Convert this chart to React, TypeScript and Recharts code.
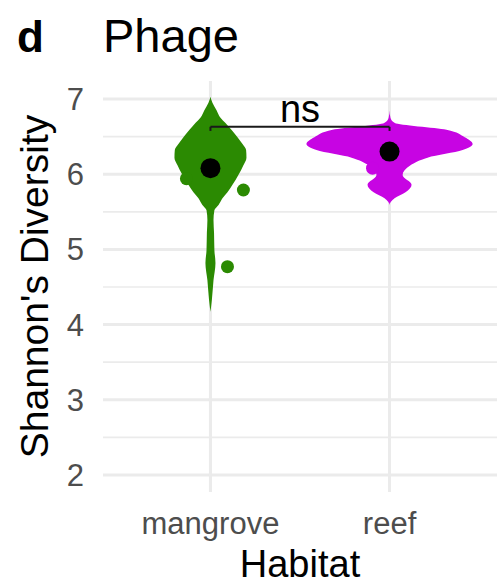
import {
  Area,
  CartesianGrid,
  ComposedChart,
  ReferenceDot,
  ReferenceLine,
  Scatter,
  XAxis,
  YAxis,
} from "recharts";

const FONT = '"Liberation Sans", Arial, Helvetica, sans-serif';

const habitats = ["mangrove", "reef"];
const yTicks = [2, 3, 4, 5, 6, 7];
const yMinor = [2.5, 3.5, 4.5, 5.5, 6.5];

// violin outlines: diversity level -> half width (category units)
const levels = [
  7.03, 6.95, 6.85, 6.75, 6.68, 6.59, 6.49, 6.4, 6.32, 6.22, 6.12, 5.99, 5.86,
  5.76, 5.68, 5.59, 5.52, 5.39, 5.22, 4.99, 4.82, 4.59, 4.33, 4.17,
];
const mangroveHalf = [
  0, 0.011, 0.034, 0.056, 0.084, 0.117, 0.151, 0.179, 0.199, 0.201, 0.184,
  0.156, 0.123, 0.095, 0.067, 0.045, 0.022, 0.017, 0.02, 0.022, 0.028, 0.017,
  0.008, 0,
];
const reefHalf = [
  0, 0, 0, 0.005, 0.03, 0.318, 0.42, 0.464, 0.408, 0.212, 0.117, 0.073, 0.123,
  0.089, 0.028, 0, 0, 0, 0, 0, 0, 0, 0, 0,
];

const meanPoints = [
  { x: 1, v: 6.08 },
  { x: 2, v: 6.3 },
];
const mangrovePoints = [
  { x: 0.866, v: 5.94 },
  { x: 1.184, v: 5.79 },
  { x: 1.095, v: 4.77 },
];
const reefPoints = [{ x: 1.905, v: 6.08 }];

const bracketY = 6.63;
const bracketTick = 6.575;

const violinData = levels.map((v, i) => ({
  v,
  mangrove: [1 - mangroveHalf[i], 1 + mangroveHalf[i]],
  reef: [2 - reefHalf[i], 2 + reefHalf[i]],
}));

const GREEN = "#2B8A02";
const MAGENTA = "#C704E3";

const dot = (r: number, fill: string) => (p: any) =>
  <circle cx={p.cx} cy={p.cy} r={r} fill={fill} />;

export default function App() {
  return (
    <div style={{ position: "absolute", left: 0, top: 0, width: 497, height: 585, background: "#fff" }}>
      <svg width={497} height={70} style={{ position: "absolute", left: 0, top: 0 }}>
        <text x={17} y={52} fontFamily={FONT} fontSize={44} fontWeight="bold" fill="#000">
          d
        </text>
        <text x={103} y={52} fontFamily={FONT} fontSize={47} fill="#000">
          Phage
        </text>
      </svg>
      <ComposedChart
        width={497}
        height={585}
        layout="vertical"
        data={violinData}
        margin={{ top: 81, right: 0, bottom: 0, left: 0 }}
      >
        <CartesianGrid stroke="#EBEBEB" strokeWidth={3} horizontalValues={yTicks} verticalValues={[1, 2]} />
        <CartesianGrid stroke="#EBEBEB" strokeWidth={1.7} vertical={false} horizontalValues={yMinor} />
        <XAxis
          type="number"
          dataKey="x"
          domain={[0.4, 2.6]}
          allowDataOverflow
          ticks={[1, 2]}
          tickFormatter={(t) => habitats[t - 1]}
          height={93}
          tickLine={false}
          axisLine={false}
          tickSize={0}
          tickMargin={20}
          tick={{ fill: "#4D4D4D", fontSize: 31, fontFamily: FONT }}
          label={{
            content: (props: any) => {
              const vb = props.viewBox;
              return (
                <text x={vb.x + vb.width / 2} y={vb.y + 85} textAnchor="middle" fontFamily={FONT} fontSize={38} fill="#000">
                  Habitat
                </text>
              );
            },
          }}
        />
        <YAxis
          type="number"
          dataKey="v"
          reversed
          domain={[1.774, 7.239]}
          allowDataOverflow
          ticks={yTicks}
          width={103}
          tickLine={false}
          axisLine={false}
          tickSize={0}
          tickMargin={19}
          tick={{ fill: "#4D4D4D", fontSize: 31, fontFamily: FONT }}
          label={{
            content: (props: any) => {
              const vb = props.viewBox;
              const cx = vb.x + 48;
              const cy = vb.y + vb.height / 2;
              return (
                <text
                  x={cx}
                  y={cy}
                  transform={`rotate(-90, ${cx}, ${cy})`}
                  textAnchor="middle"
                  fontFamily={FONT}
                  fontSize={39}
                  fill="#000"
                >
                  Shannon's Diversity
                </text>
              );
            },
          }}
        />
        <Area dataKey="mangrove" type="monotone" fill={GREEN} fillOpacity={1} stroke="none" isAnimationActive={false} />
        <Area dataKey="reef" type="monotone" fill={MAGENTA} fillOpacity={1} stroke="none" isAnimationActive={false} />
        <Scatter data={mangrovePoints} shape={dot(6.5, GREEN)} isAnimationActive={false} />
        <Scatter data={reefPoints} shape={dot(6.5, MAGENTA)} isAnimationActive={false} />
        <Scatter data={meanPoints} shape={dot(10, "#000")} isAnimationActive={false} />
        <ReferenceLine segment={[{ x: 1, y: bracketY }, { x: 2, y: bracketY }]} stroke="#1a1a1a" strokeWidth={2} />
        <ReferenceLine segment={[{ x: 1, y: bracketY }, { x: 1, y: bracketTick }]} stroke="#1a1a1a" strokeWidth={2} />
        <ReferenceLine segment={[{ x: 2, y: bracketY }, { x: 2, y: bracketTick }]} stroke="#1a1a1a" strokeWidth={2} />
        <ReferenceDot
          x={1.5}
          y={bracketY}
          r={0}
          fill="none"
          stroke="none"
          label={{ value: "ns", position: "top", offset: 5, fontSize: 38, fontFamily: FONT, fill: "#000" }}
        />
      </ComposedChart>
    </div>
  );
}
